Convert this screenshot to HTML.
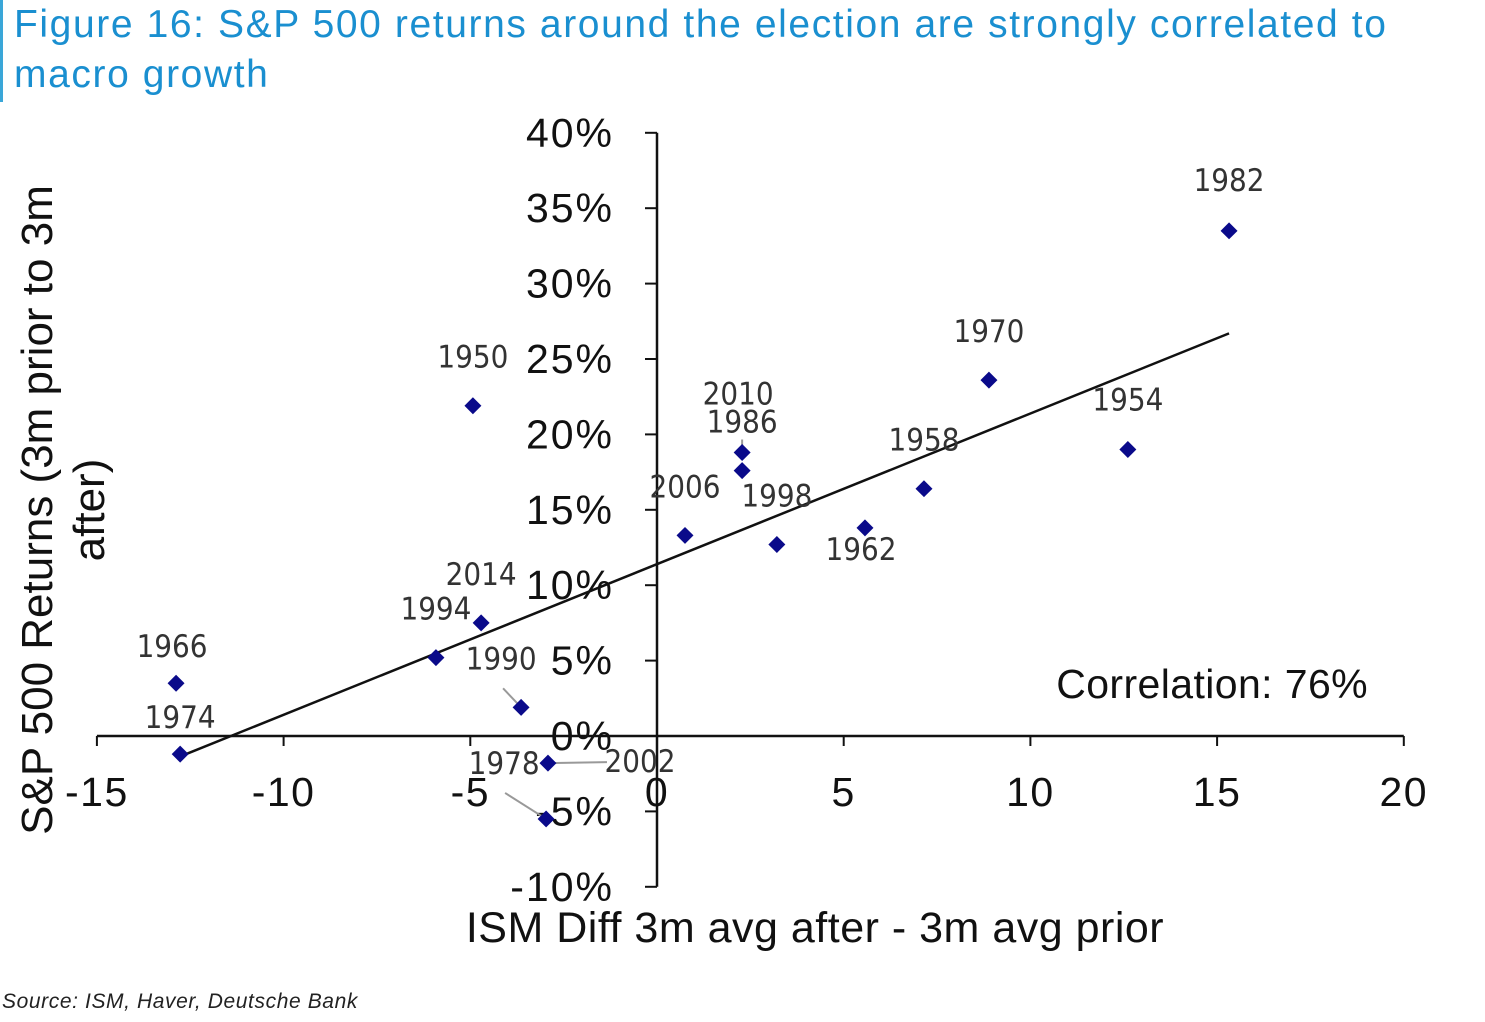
<!DOCTYPE html>
<html><head><meta charset="utf-8"><style>
body{margin:0;background:#fff;width:1485px;height:1022px;overflow:hidden;font-family:"Liberation Sans",sans-serif}
#title{position:absolute;left:0;top:0;height:102px;border-left:3px solid #3aa6d8;padding-left:11px;color:#1a8fd0;font-size:39px;letter-spacing:1.6px;line-height:50px;width:1470px;white-space:nowrap}
#src{position:absolute;left:2px;top:990px;font-size:21px;letter-spacing:0.6px;font-style:italic;color:#222}
svg{position:absolute;left:0;top:0}
</style></head><body>
<div id="title">Figure 16: S&amp;P 500 returns around the election are strongly correlated to<br>macro growth</div>
<svg id="chart" width="1485" height="1022"></svg>
<div id="src">Source: ISM, Haver, Deutsche Bank</div>
<script>
const years=["1982","1970","1954","1958","1962","1998","2010","1986","2006","1950","2014","1994","1966","1974","1990","2002","1978"];
const xVals=[15.32,8.89,12.61,7.15,5.57,3.21,2.28,2.28,0.75,-4.93,-4.71,-5.92,-12.88,-12.77,-3.64,-2.92,-2.97];
const yVals=[33.5,23.6,19.0,16.4,13.8,12.7,18.8,17.6,13.3,21.9,7.5,5.2,3.5,-1.2,1.9,-1.8,-5.5];
const xTicks=[-15,-10,-5,0,5,10,15,20];
const yTicks=[40,35,30,25,20,15,10,5,0,-5,-10];
const trendX=[-12.61,15.32];
const trendY=[-1.2,26.7];
const lab={"1982":[0,-40],"1970":[0,-38],"1954":[0,-39],"1958":[0,-38],"1962":[-4,32],"1998":[0,-38],"2010":[-4,-48],"1986":[0,-38],"2006":[0,-38],"1950":[0,-38],"2014":[0,-38],"1994":[0,-38],"1966":[-4,-26],"1974":[0,-26],"1990":[-20,-38],"2002":[92,9],"1978":[-42,-45]};
const leaders={"1990":[-18,-19,0,0],"2002":[59,-1,0,0],"1978":[-41,-26,0,0],"2010":[0,-13,0,0]};
const X=v=>657+v*37.34, Y=v=>736-v*15.08;
const svg=document.getElementById('chart'),NS='http://www.w3.org/2000/svg';
function mk(t,a,txt){const e=document.createElementNS(NS,t);for(const k in a)e.setAttribute(k,a[k]);if(txt!=null)e.textContent=txt;svg.appendChild(e);return e;}
let e;
e=mk('line',{x1:X(-15),x2:X(20),y1:Y(0),y2:Y(0),stroke:'#111','stroke-width':2.5});


e=mk('line',{x1:X(0),x2:X(0),y1:Y(40),y2:Y(-10),stroke:'#111','stroke-width':2.5});


xTicks.forEach(t=>{
 e=mk('line',{x1:X(t),x2:X(t),y1:Y(0),y2:Y(0)+10,stroke:'#111','stroke-width':2});
 
 
 e=mk('text',{x:X(t),y:Y(0)+70,'text-anchor':'middle','font-size':41,'letter-spacing':1.5,fill:'#111'},t);
 
 
});
yTicks.forEach(t=>{
 e=mk('line',{x1:X(0)-12,x2:X(0),y1:Y(t),y2:Y(t),stroke:'#111','stroke-width':2});
 
 
 e=mk('text',{x:X(0)-43,y:Y(t)+14,'text-anchor':'end','font-size':41,'letter-spacing':2,fill:'#111'},t+'%');
 
 
});
e=mk('line',{x1:X(trendX[0]),y1:Y(trendY[0]),x2:X(trendX[1]),y2:Y(trendY[1]),stroke:'#111','stroke-width':2.5});


years.forEach((yr,i)=>{
 const px=X(xVals[i]),py=Y(yVals[i]);
 if(leaders[yr]){const l=leaders[yr];
  e=mk('line',{x1:px+l[0],y1:py+l[1],x2:px,y2:py,stroke:'#999','stroke-width':2});
  
  }
 e=mk('rect',{x:px-6,y:py-6,width:12,height:12,fill:'#0a0a8a',transform:`rotate(45 ${px} ${py})`});
 
 
 const o=lab[yr];
 e=mk('text',{x:px+o[0],y:py+o[1],'text-anchor':'middle','font-size':31,fill:'#333','font-family':'DejaVu Sans Condensed, Liberation Sans Narrow, sans-serif'},yr);
 
 
});
e=mk('text',{x:1368,y:698,'text-anchor':'end','font-size':41,'letter-spacing':0.4,fill:'#111'},'Correlation: 76%');


e=mk('text',{x:815,y:942,'text-anchor':'middle','font-size':43,'letter-spacing':0.5,fill:'#111'},'ISM Diff 3m avg after - 3m avg prior');


const g=document.createElementNS(NS,'text');
g.setAttribute('transform','translate(52,510) rotate(-90)');
g.setAttribute('text-anchor','middle');g.setAttribute('font-size',44);g.setAttribute('fill','#111');


const t1=document.createElementNS(NS,'tspan');t1.setAttribute('x',0);t1.setAttribute('y',0);t1.textContent='S&P 500  Returns (3m prior to 3m';
const t2=document.createElementNS(NS,'tspan');t2.setAttribute('x',0);t2.setAttribute('y',52);t2.textContent='after)';
g.appendChild(t1);g.appendChild(t2);svg.appendChild(g);
</script>
</body></html>
